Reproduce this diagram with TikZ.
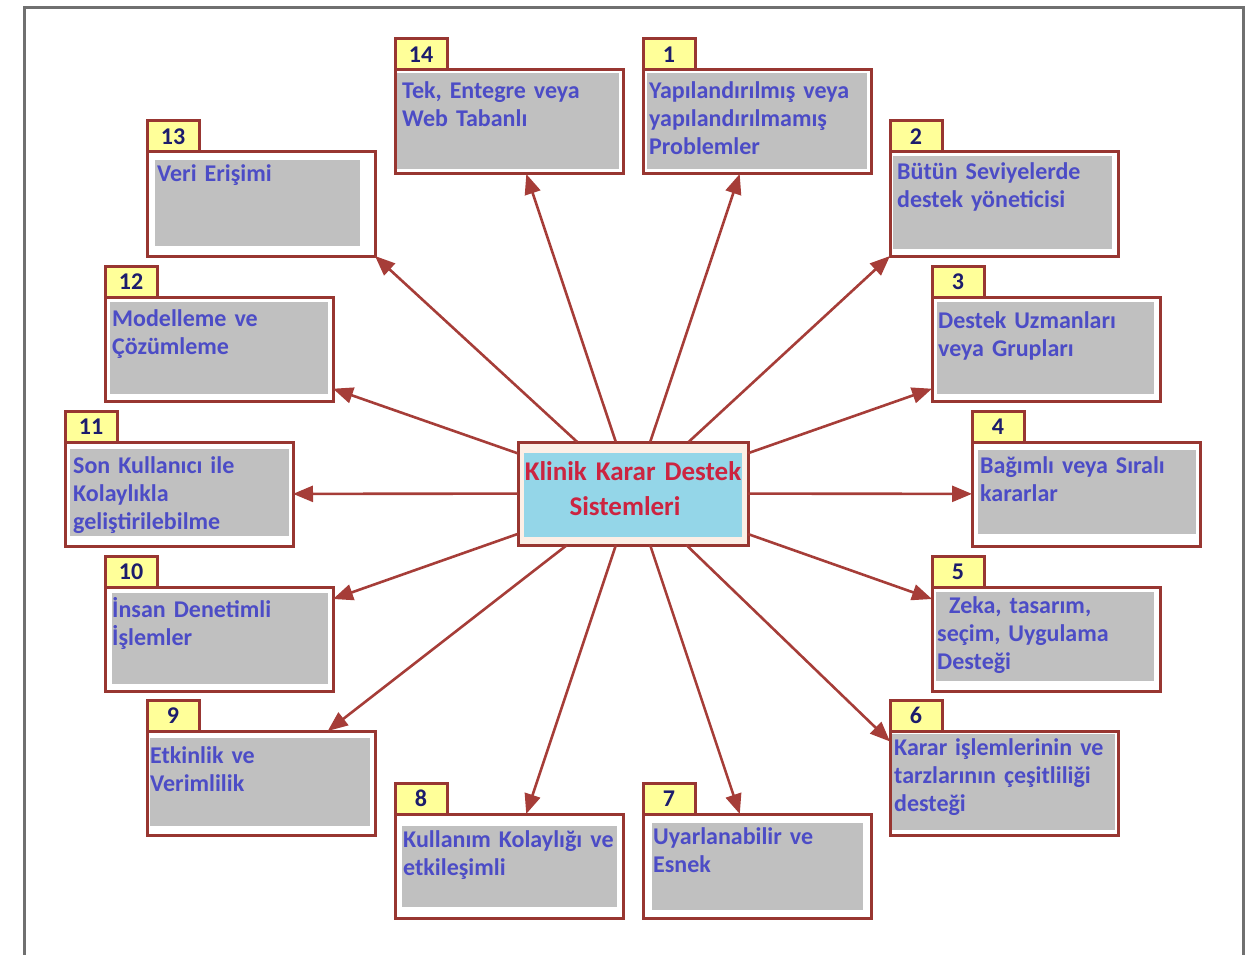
\documentclass[tikz,border=0pt]{standalone}
\usepackage{fontspec}
\setmainfont{Carlito}
\usetikzlibrary{arrows.meta}

\definecolor{frameRed}{HTML}{983631}
\definecolor{arrowRed}{HTML}{A63D38}
\definecolor{tabYellow}{HTML}{FFFF99}
\definecolor{fillGray}{HTML}{C0C0C0}
\definecolor{textBlue}{HTML}{4C4CC6}
\definecolor{numNavy}{HTML}{1C1C6C}
\definecolor{hubBlue}{HTML}{94D6E8}
\definecolor{hubCream}{HTML}{FCEFE6}
\definecolor{hubText}{HTML}{CC2440}
\definecolor{outline}{HTML}{707070}

\tikzset{
  featframe/.style={draw=frameRed, line width=3pt, fill=white,
    minimum width=228pt, minimum height=104pt, inner sep=0pt, outer sep=0pt},
  feattab/.style={draw=frameRed, line width=3pt, fill=tabYellow,
    minimum width=52pt, minimum height=31pt, inner sep=0pt, outer sep=0pt,
    text=numNavy, font=\fontsize{24}{26}\selectfont\bfseries},
  feattext/.style={text=textBlue, font=\fontsize{24}{28}\selectfont\bfseries,
    text width=260pt, align=left, inner sep=0pt},
  hubframe/.style={draw=frameRed, line width=3pt, fill=hubCream,
    minimum width=230pt, minimum height=103pt, inner sep=0pt, outer sep=0pt},
  hubtext/.style={text=hubText, font=\fontsize{27}{35}\selectfont\bfseries,
    text width=230pt, align=center, inner sep=0pt},
  link/.style={draw=arrowRed, line width=2.6pt, -{Triangle[length=20pt,width=16pt]}},
}

% \featbox{number}{left}{top}{gray inset l,t}{gray inset -r,-b}{text dx}{baseline dy}{text}
\newcommand\featbox[8]{%
  \node[featframe, anchor=north west] (b#1) at (#2,#3) {};
  \fill[fillGray] ([shift={(#4)}]b#1.north west) rectangle ([shift={(#5)}]b#1.south east);
  \node[feattab, anchor=south west] (t#1) at (b#1.north west) {#1};
  \node[feattext, anchor=base west] (x#1) at ([shift={(#6,#7)}]b#1.north west) {#8};
}

\begin{document}
\begin{tikzpicture}[x=1pt,y=-1pt]
\useasboundingbox (0,0) rectangle (1259,955);

% page frame, open at the bottom
\draw[outline, line width=3pt] (24,960) -- (24,8) -- (1243,8) -- (1243,960);

% central topic
\node[hubframe] (c) at (633,493.5) {};
\fill[hubBlue] ([shift={(6,11)}]c.north west) rectangle ([shift={(-6,-8)}]c.south east);
\node[hubtext, anchor=base] (ct) at (633,480) {Klinik Karar Destek\\Sistemleri\hspace*{16pt}};

% feature boxes
\featbox{14}{395}{70}{2,3}{-4,-5}{7}{29}{Tek, Entegre veya\\Web Tabanlı}
\featbox{1}{643}{70}{4,3}{-4,-5}{6}{29}{Yapılandırılmış veya\\yapılandırılmamış\\Problemler}
\featbox{13}{147}{152}{8,8}{-15,-10}{10}{30}{Veri Erişimi}
\featbox{2}{890}{152}{3,4}{-6,-7}{7}{28}{Bütün Seviyelerde\\destek yöneticisi}
\featbox{12}{105}{297}{5,5}{-5,-7}{7}{29}{Modelleme ve\\Çözümleme}
\featbox{3}{932}{297}{5,5}{-6,-7}{6}{31}{Destek Uzmanları\\veya Grupları}
\featbox{11}{65}{442}{5,7}{-4,-10}{8}{31}{Son Kullanıcı ile\\Kolaylıkla\\geliştirilebilme}
\featbox{4}{972}{442}{6,8}{-4,-12}{8}{31}{Bağımlı veya Sıralı\\kararlar}
\featbox{10}{105}{587}{7,6}{-5,-7}{7}{30}{İnsan Denetimli\\İşlemler}
\featbox{5}{932}{587}{4,5}{-6,-10}{5}{26}{\hspace*{12pt}Zeka, tasarım,\\seçim, Uygulama\\Desteği}
\featbox{9}{147}{731}{3,7}{-5,-9}{3}{32}{Etkinlik ve\\Verimlilik}
\featbox{6}{890}{731}{2,3}{-3,-5}{4}{24}{Karar işlemlerinin ve\\tarzlarının çeşitliliği\\desteği}
\featbox{8}{395}{814}{7,12}{-6,-11}{8}{33}{Kullanım Kolaylığı ve\\etkileşimli}
\featbox{7}{643}{814}{9,9}{-8,-8}{10}{30}{Uyarlanabilir ve\\Esnek}

% connectors from the central topic
\draw[link] (c) -- (b14);
\draw[link] (c) -- (b1);
\draw[link] (c) -- (b13.south east);
\draw[link] (c) -- (b2.south west);
\draw[link] (c) -- (b12);
\draw[link] (c) -- (b3);
\draw[link] (c) -- (b11);
\draw[link] (c) -- (b4);
\draw[link] (c) -- (b10);
\draw[link] (c) -- (b5);
\draw[link] (c) -- (b9);
\draw[link] (c) -- (b6.160);
\draw[link] (c) -- (b8);
\draw[link] (c) -- (b7);
\end{tikzpicture}
\end{document}
